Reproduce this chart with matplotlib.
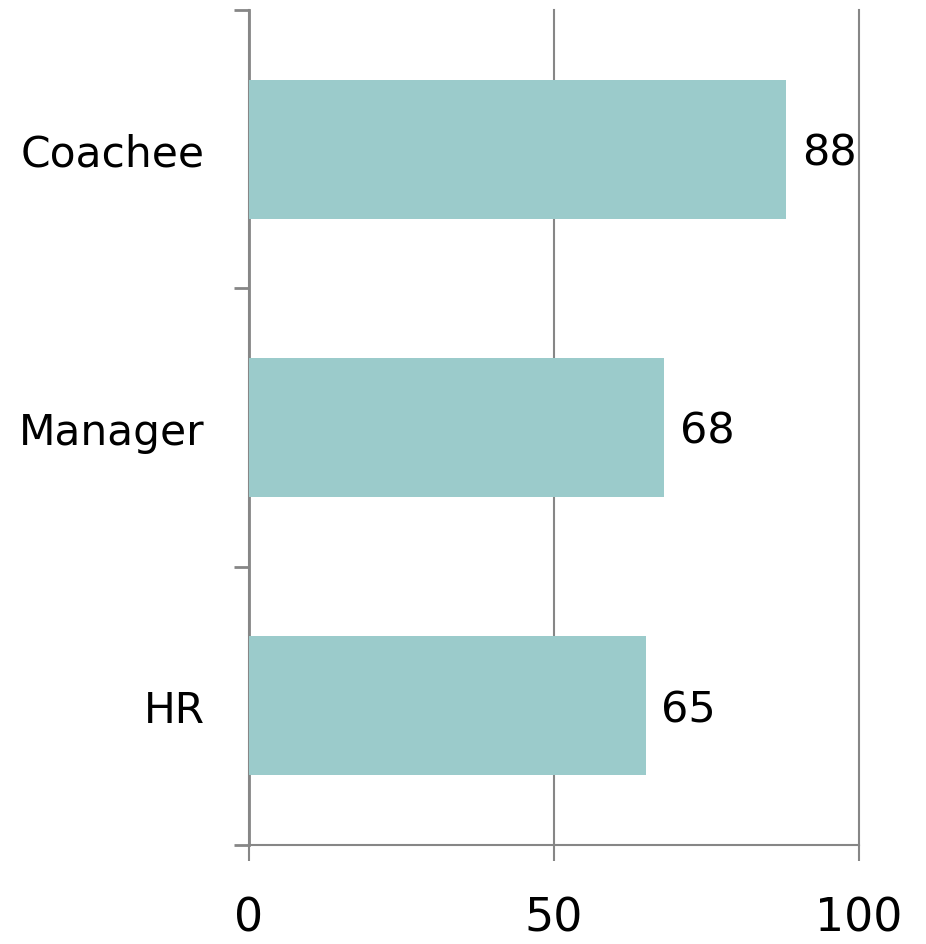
import matplotlib
matplotlib.use("Agg")
import matplotlib.pyplot as plt
import numpy as np

# data
categories = ["Coachee", "Manager", "HR"]
scores = [88, 68, 65]
x_ticks = [0, 50, 100]

BAR_C = "#9BCBCB"
AX_C = "#868686"

plt.rcParams["font.family"] = ["DejaVu Sans"]

fig = plt.figure(figsize=(9.26, 9.45), dpi=100)
ax = fig.add_axes([249 / 926, 1 - 846 / 945, 610 / 926, 835 / 945])

ypos = np.arange(len(categories))
ax.barh(ypos, scores, height=0.5, color=BAR_C, zorder=3)
for y, v in zip(ypos, scores):
    ax.text(v + 2.6, y + 0.012, f"{v}", va="center", ha="left", fontsize=31, color="black")

ax.set_xlim(0, 100)
ax.set_ylim(len(categories) - 0.5, -0.5)

ax.set_xticks(x_ticks)
ax.set_xticklabels([str(t) for t in x_ticks])
ax.set_yticks(ypos)
ax.set_yticklabels(categories)
ax.set_yticks(np.arange(len(categories) + 1) - 0.5, minor=True)

ax.tick_params(axis="y", which="major", length=0, pad=32, labelsize=30.5)
ax.tick_params(axis="y", which="minor", length=11, width=2, color=AX_C, direction="out")
ax.tick_params(axis="x", which="major", length=11.5, width=1.5, color=AX_C,
               direction="out", pad=25, labelsize=33)

ax.grid(axis="x", color=AX_C, lw=1.5, zorder=1)
for gl in ax.get_xgridlines():
    gl.set_clip_on(False)
for s in ("top", "right"):
    ax.spines[s].set_visible(False)
for s in ("left", "bottom"):
    ax.spines[s].set_color(AX_C)
ax.spines["left"].set_linewidth(2)
ax.spines["bottom"].set_linewidth(1.5)

fig.savefig("out.png", dpi=100)
